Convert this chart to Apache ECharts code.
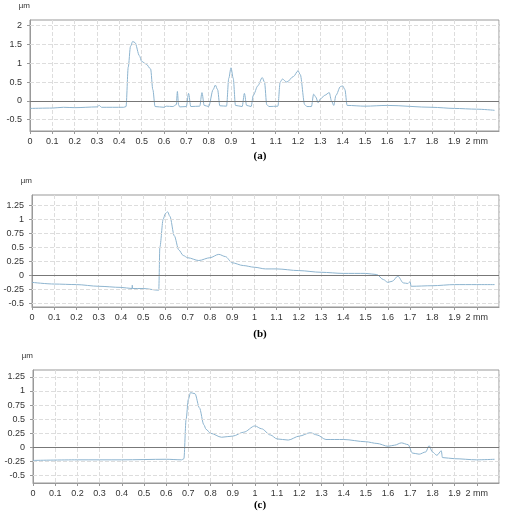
<!DOCTYPE html>
<html><head><meta charset="utf-8">
<script src="https://cdn.jsdelivr.net/npm/echarts@6/dist/echarts.min.js"></script>
<style>html,body{margin:0;background:#fff}#c{width:520px;height:512px}</style>
</head><body><div id="c"></div>
<script>
const xA=[0,0.1,0.15,0.2,0.3,0.31,0.32,0.42,0.43,0.44,0.45,0.46,0.47,0.49,0.5,0.52,0.54,0.55,0.56,0.6,0.61,0.64,0.655,0.66,0.665,0.67,0.7,0.71,0.72,0.76,0.77,0.78,0.8,0.82,0.83,0.84,0.85,0.88,0.89,0.9,0.91,0.92,0.95,0.96,0.97,0.99,1.0,1.02,1.04,1.05,1.06,1.07,1.11,1.12,1.13,1.15,1.18,1.2,1.21,1.23,1.24,1.26,1.27,1.28,1.29,1.3,1.32,1.34,1.35,1.36,1.37,1.39,1.4,1.41,1.42,1.5,1.6,1.8,1.9,2.0,2.08];
const yA=[-0.2,-0.19,-0.17,-0.18,-0.16,-0.12,-0.17,-0.17,-0.15,0.9,1.45,1.58,1.55,1.2,1.05,0.98,0.85,0.3,-0.15,-0.17,-0.14,-0.15,-0.1,0.25,-0.1,-0.16,-0.15,0.2,-0.15,-0.14,0.22,-0.12,-0.15,0.3,0.42,0.3,-0.13,-0.14,0.6,0.88,0.6,-0.12,-0.15,0.2,-0.12,-0.15,0.15,0.4,0.62,0.5,-0.1,-0.15,-0.14,0.5,0.58,0.5,0.65,0.8,0.7,-0.1,-0.15,-0.15,0.18,0.1,-0.05,0.05,0.15,0.22,0.0,-0.12,0.15,0.38,0.4,0.3,-0.12,-0.14,-0.12,-0.17,-0.2,-0.22,-0.25];
const xB=[0,0.1,0.2,0.3,0.4,0.45,0.451,0.452,0.5,0.57,0.575,0.59,0.6,0.61,0.62,0.64,0.66,0.68,0.7,0.75,0.8,0.84,0.87,0.9,0.95,1.0,1.05,1.1,1.2,1.3,1.4,1.5,1.55,1.58,1.6,1.62,1.645,1.67,1.69,1.7,1.705,1.8,1.9,2.0,2.08];
const yB=[-0.13,-0.16,-0.17,-0.2,-0.22,-0.24,-0.18,-0.24,-0.24,-0.27,0.5,1.0,1.1,1.13,1.05,0.7,0.45,0.35,0.31,0.26,0.31,0.37,0.33,0.22,0.17,0.14,0.11,0.11,0.08,0.05,0.03,0.03,0.01,-0.08,-0.13,-0.11,-0.02,-0.14,-0.15,-0.12,-0.2,-0.19,-0.17,-0.17,-0.17];
const xC=[0,0.2,0.4,0.6,0.67,0.68,0.69,0.7,0.71,0.73,0.75,0.77,0.78,0.8,0.85,0.9,0.95,1.0,1.03,1.07,1.1,1.15,1.2,1.25,1.28,1.32,1.4,1.5,1.55,1.6,1.63,1.66,1.69,1.71,1.74,1.77,1.785,1.8,1.82,1.84,1.845,1.9,2.0,2.08];
const yC=[-0.23,-0.22,-0.22,-0.21,-0.22,-0.2,0.5,0.85,0.97,0.95,0.7,0.4,0.32,0.25,0.18,0.2,0.27,0.38,0.33,0.22,0.15,0.13,0.2,0.26,0.22,0.14,0.14,0.1,0.07,0.02,0.04,0.08,0.05,-0.1,-0.12,-0.08,0.03,-0.08,-0.14,-0.06,-0.18,-0.2,-0.22,-0.21];
const yTicksA=[-0.5,0,0.5,1,1.5,2];
const yTicksBC=[-0.5,-0.25,0,0.25,0.5,0.75,1,1.25];
const captions=['(a)','(b)','(c)'];

const panels=[
 {x:xA,y:yA,ticks:yTicksA,min:-0.8,max:2.15,grid:{left:30,top:20,width:469,height:111},cap:155},
 {x:xB,y:yB,ticks:yTicksBC,min:-0.57,max:1.43,grid:{left:32,top:195,width:467,height:112},cap:333},
 {x:xC,y:yC,ticks:yTicksBC,min:-0.63,max:1.37,grid:{left:33,top:370,width:466,height:113},cap:504}
];
const lab={fontSize:9,color:'#333',fontFamily:'Liberation Sans'};
const opt={animation:false,grid:[],xAxis:[],yAxis:[],series:[],title:[]};
panels.forEach((p,i)=>{
 opt.grid.push(Object.assign({show:true,borderColor:'#999',borderWidth:1},p.grid));
 opt.xAxis.push({type:'value',gridIndex:i,min:0,max:2.1,interval:0.1,
  axisLine:{onZero:false,lineStyle:{color:'#999'}},
  axisTick:{show:true,length:3,lineStyle:{color:'#999'}},
  splitLine:{show:true,lineStyle:{color:'#ddd',type:'dashed'}},
  axisLabel:Object.assign({showMaxLabel:false,margin:6,formatter:v=>{const r=Math.round(v*10)/10;return r===2?'2 mm':String(r);}},lab)});
 opt.yAxis.push({type:'value',gridIndex:i,min:p.min,max:p.max,name:'µm',nameLocation:'end',nameGap:10,
  nameTextStyle:{fontSize:8,color:'#333',align:'right'},
  axisLine:{show:true,lineStyle:{color:'#999'}},
  axisTick:{show:true,length:3,customValues:p.ticks},
  splitLine:{show:false},
  axisLabel:Object.assign({customValues:p.ticks},lab)});
 opt.series.push({type:'line',xAxisIndex:i,yAxisIndex:i,showSymbol:false,smooth:0.3,smoothMonotone:'x',
  data:p.x.map((v,k)=>[v,p.y[k]]),lineStyle:{color:'#8db4cf',width:1},
  markLine:{symbol:'none',silent:true,label:{show:false},
   data:p.ticks.map(t=>({yAxis:t,lineStyle:t===0?{color:'#777',type:'solid',width:1}:{color:'#ddd',type:'dashed',width:1}}))}});
 opt.title.push({text:captions[i],left:'center',top:p.cap-9,textStyle:{fontFamily:'Liberation Serif',fontWeight:'bold',fontSize:11,color:'#000'}});
});
echarts.init(document.getElementById('c')).setOption(opt);
</script></body></html>
